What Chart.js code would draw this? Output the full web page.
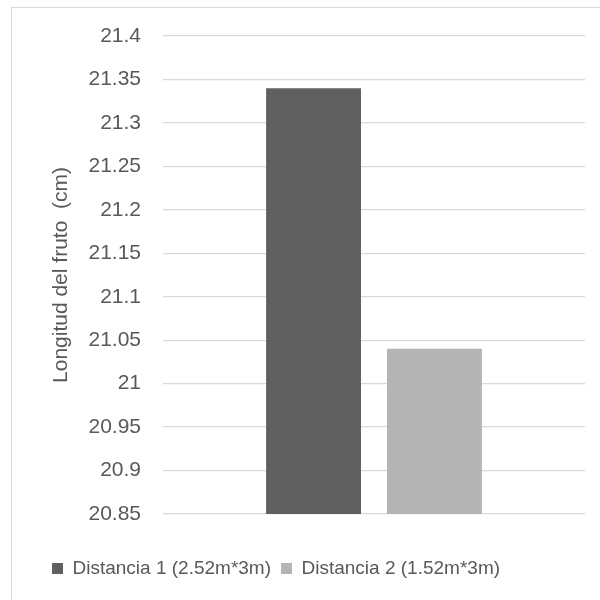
<!DOCTYPE html>
<html>
<head>
<meta charset="utf-8">
<script src="https://cdn.jsdelivr.net/npm/chart.js@4/dist/chart.umd.min.js"></script>
<style>
  html, body { margin: 0; padding: 0; background: #fff; overflow: hidden; }
  #frame {
    position: absolute; left: 11px; top: 7px;
    width: 620px; height: 620px;
    border: 1px solid #d9d9d9;
  }
  #wrap { position: absolute; left: 0; top: 0; width: 600px; height: 600px; }
</style>
</head>
<body>
<div id="frame"></div>
<div id="wrap"><canvas id="chart"></canvas></div>
<script>
// Fruit length by planting distance
const categories = ['Longitud'];
const seriesNames = ['Distancia 1 (2.52m*3m)', 'Distancia 2 (1.52m*3m)'];
const distancia1 = [21.34];
const distancia2 = [21.04];
const seriesColors = ['#606060', '#b4b4b4'];
const yMin = 20.85;
const yMax = 21.4;
const yStep = 0.05;

const textColor = '#595959';
const fontFamily = '"Liberation Sans", Arial, sans-serif';

const ctx = document.getElementById('chart');

new Chart(ctx, {
    type: 'bar',
    data: {
        labels: categories,
        datasets: [
            { label: seriesNames[0], data: distancia1, backgroundColor: seriesColors[0] },
            { label: seriesNames[1], data: distancia2, backgroundColor: seriesColors[1] }
        ]
    },
    options: {
        responsive: true,
        maintainAspectRatio: false,
        animation: false,
        categoryPercentage: 0.573,
        barPercentage: 0.785,
        layout: {
            padding: { left: 42, top: 36, right: 15, bottom: 12 }
        },
        scales: {
            x: {
                grid: { display: false },
                border: { display: false },
                ticks: { display: false },
                afterFit: (scale) => { scale.height = 35; }
            },
            y: {
                min: yMin,
                max: yMax,
                border: { display: false },
                grid: { color: '#d9d9d9', lineWidth: 1.3, drawTicks: false },
                ticks: {
                    stepSize: yStep,
                    padding: 22,
                    color: textColor,
                    font: { family: fontFamily, size: 21 },
                    callback: (value) => String(parseFloat(value.toFixed(2)))
                },
                title: {
                    display: true,
                    text: 'Longitud del fruto  (cm)',
                    color: textColor,
                    font: { family: fontFamily, size: 21 },
                    padding: { top: 7, bottom: 0 }
                },
                afterFit: (scale) => { scale.width = 121; }
            }
        },
        plugins: {
            legend: {
                position: 'bottom',
                align: 'start',
                labels: {
                    boxWidth: 11,
                    boxHeight: 11,
                    padding: 10,
                    color: textColor,
                    font: { family: fontFamily, size: 19 }
                }
            },
            tooltip: { enabled: false }
        }
    }
});
</script>
</body>
</html>
